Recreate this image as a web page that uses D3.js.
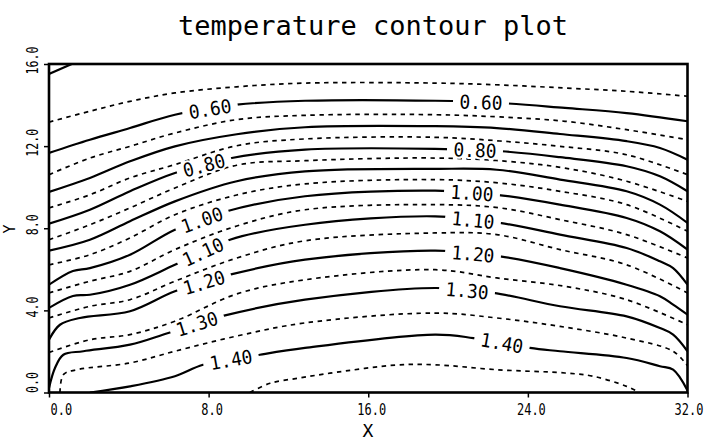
<!DOCTYPE html>
<html>
<head>
<meta charset="utf-8">
<script src="https://cdn.jsdelivr.net/npm/d3@7"></script>
<style>
body { margin: 0; background: #fff; }
</style>
</head>
<body>
<script>
// tick values
var xTicks = [0, 8, 16, 24, 32];
var yTicks = [0, 4, 8, 12, 16];

// contour lines, [x, y] in data units
var c050 = [[0,15.51],[1.14,16]];
var c055 = [[0,13.17],[2.05,13.70],[4.06,14.18],[6.31,14.59],[9.41,14.89],[12.83,15.07],[19.35,15.07],[22.6,14.98],[25.86,14.83],[28.95,14.67],[32,14.43]];
var c060 = [[0,11.67],[2.05,12.31],[4.06,12.88],[6.31,13.53],[9.41,14.02],[12.83,14.21],[19.35,14.21],[22.6,14.10],[25.86,13.86],[28.95,13.61],[32,13.21]];
var c065 = [[0,10.61],[2.05,11.42],[4.06,11.99],[6.31,12.64],[9.41,13.29],[12.83,13.50],[19.35,13.53],[22.6,13.42],[25.86,13.21],[28.95,12.80],[32,12.31]];
var c070 = [[0,9.77],[2.05,10.45],[4.06,11.26],[6.31,11.99],[9.41,12.58],[12.83,12.92],[19.35,12.97],[22.44,12.88],[25.61,12.59],[28.95,12.24],[30.62,11.91],[32,11.34]];
var c075 = [[0,8.99],[2.05,9.63],[4.06,10.45],[6.31,11.10],[9.41,12.02],[12.83,12.35],[19.35,12.43],[22.6,12.25],[25.61,11.99],[28.95,11.58],[32,10.61]];
var c080 = [[0,8.22],[2.05,8.90],[4.06,9.80],[6.31,10.69],[9.16,11.42],[12.83,11.83],[19.35,11.87],[22.69,11.75],[25.61,11.46],[28.95,11.02],[30.62,10.53],[32,9.80]];
var c085 = [[0,7.44],[2.05,8.17],[4.06,8.99],[6.31,9.96],[9.41,11.07],[12.83,11.29],[19.35,11.42],[22.94,11.26],[25.86,10.93],[28.95,10.29],[32,9.31]];
var c090 = [[0,6.91],[2.05,7.44],[4.06,8.34],[6.31,9.31],[9.41,10.29],[12.83,10.77],[19.35,10.89],[22.44,10.85],[25.61,10.37],[28.95,9.80],[30.62,9.15],[32,8.26]];
var c095 = [[0,6.22],[2.05,6.71],[4.06,7.53],[6.31,8.66],[9.41,9.62],[12.83,10.16],[19.35,10.37],[22.6,10.20],[25.61,9.80],[28.95,9.15],[32,7.85]];
var c100 = [[0,5.25],[1.2,5.92],[2.05,6.06],[4.06,6.71],[6.31,7.93],[8.91,8.83],[12.83,9.56],[19.35,9.83],[22.44,9.63],[25.61,9.15],[28.95,8.50],[30.62,7.85],[32,6.96]];
var c105 = [[0,4.85],[2.05,5.42],[4.06,5.90],[6.31,6.96],[9.41,8.11],[12.83,8.90],[19.35,9.15],[22.6,8.99],[25.61,8.42],[28.95,7.69],[32,6.55]];
var c110 = [[0,4.12],[1.2,4.70],[2.05,4.76],[4.06,5.25],[6.31,6.22],[9.07,7.44],[12.83,8.17],[19.35,8.58],[22.6,8.26],[25.61,7.69],[28.95,7.04],[30.62,6.39],[31.28,6.06],[32,5.25]];
var c115 = [[0,3.63],[2.05,4.20],[4.06,4.52],[6.31,5.42],[9.41,6.55],[12.83,7.39],[19.35,7.77],[22.44,7.69],[25.61,6.96],[28.95,6.22],[32,4.85]];
var c120 = [[0,2.57],[0.55,3.30],[1.55,3.63],[4.06,3.96],[6.31,4.93],[9.07,5.74],[12.83,6.47],[19.35,6.91],[22.6,6.63],[25.61,6.06],[28.95,5.25],[30.62,4.69],[31.28,4.28],[32,3.79]];
var c125 = [[0,1.95],[2.05,2.57],[4.06,2.82],[6.31,3.47],[9.41,4.80],[12.83,5.49],[19.35,5.98],[22.44,5.58],[25.86,5.17],[28.95,4.52],[32,3.30]];
var c130 = [[0,0.22],[0.3,1.19],[0.72,1.84],[1.72,2.01],[4.06,2.33],[5.98,2.90],[8.72,3.73],[12.83,4.52],[19.35,5.09],[22.27,4.85],[25.61,4.20],[28.95,3.71],[30.62,3.14],[31.28,2.82],[32,2.01]];
var c135 = [[0.55,0],[0.72,0.87],[1.39,1.11],[4.06,1.44],[6.31,2.01],[9.41,2.75],[12.83,3.39],[19.35,3.87],[22.44,3.63],[25.61,3.22],[28.95,2.65],[31.28,2.01],[32,1.3]];
var c140 = [[2.05,0],[4.06,0.30],[6.31,0.79],[7.72,1.35],[10.57,1.84],[12.83,2.17],[19.35,2.82],[21.27,2.65],[24.1,2.17],[25.61,2.01],[28.95,1.68],[30.62,1.28],[31.28,1.11],[32,0.1]];
var c145 = [[10.07,0],[11.08,0.45],[12.58,0.71],[14.08,0.94],[17.43,1.34],[19.35,1.35],[22.44,1.11],[25.86,0.95],[27.28,0.79],[28.95,0.30],[29.6,0]];

var levels = [0.50, 0.55, 0.60, 0.65, 0.70, 0.75, 0.80, 0.85, 0.90, 0.95, 1.00, 1.05, 1.10, 1.15, 1.20, 1.25, 1.30, 1.35, 1.40, 1.45];
var linePoints = [c050, c055, c060, c065, c070, c075, c080, c085, c090, c095, c100, c105, c110, c115, c120, c125, c130, c135, c140, c145];

// labelled levels and where along x the labels sit
var labelLevels = [0.60, 0.80, 1.00, 1.10, 1.20, 1.30, 1.40];
var labelXLeft = [8.07, 7.77, 7.67, 7.72, 7.77, 7.42, 9.12];
var labelXRight = [21.65, 21.35, 21.2, 21.25, 21.25, 20.95, 22.7];

var width = 710, height = 442;
var pLeft = 49, pRight = 687.5, pTop = 64, pBottom = 392.5;

var xScale = d3.scaleLinear().domain([0, 32]).range([pLeft, pRight]);
var yScale = d3.scaleLinear().domain([0, 16]).range([pBottom, pTop]);

var svg = d3.select("body").append("svg")
  .attr("width", width)
  .attr("height", height)
  .style("font-family", "'DejaVu Sans Mono', monospace");

svg.append("text")
  .attr("x", 373).attr("y", 35)
  .attr("text-anchor", "middle")
  .attr("font-size", 26)
  .attr("textLength", 390)
  .attr("lengthAdjust", "spacingAndGlyphs")
  .text("temperature contour plot");

svg.append("clipPath").attr("id", "plotclip")
  .append("rect")
  .attr("x", pLeft).attr("y", pTop)
  .attr("width", pRight - pLeft).attr("height", pBottom - pTop);

var contours = levels.map((lv, i) => ({ level: lv, pts: linePoints[i], solid: Math.round(lv * 100) % 10 === 0 }));

var line = d3.line()
  .x(d => xScale(d[0]))
  .y(d => yScale(d[1]))
  .curve(d3.curveCatmullRom.alpha(0.5));

var g = svg.append("g").attr("clip-path", "url(#plotclip)");

g.selectAll("path.contour").data(contours)
  .enter().append("path")
  .attr("class", "contour")
  .attr("d", d => line(d.pts))
  .attr("fill", "none")
  .attr("stroke", "#000")
  .attr("stroke-width", d => d.solid ? 2.2 : 1.7)
  .attr("stroke-dasharray", d => d.solid ? null : "4.5,4.5");

// place a label on its line, rotated with the local slope
function placeOn(pts, xv) {
  var i = 1;
  while (i < pts.length - 1 && pts[i][0] < xv) i++;
  var a = pts[i - 1], b = pts[i];
  var t = (xv - a[0]) / (b[0] - a[0]);
  var yv = a[1] + t * (b[1] - a[1]);
  var ang = Math.atan2(yScale(b[1]) - yScale(a[1]), xScale(b[0]) - xScale(a[0])) * 180 / Math.PI;
  return { x: xScale(xv), y: yScale(yv), a: ang };
}

var labels = [];
labelLevels.forEach((lv, i) => {
  var pts = linePoints[levels.indexOf(lv)];
  labels.push(Object.assign({ text: lv.toFixed(2) }, placeOn(pts, labelXLeft[i])));
  labels.push(Object.assign({ text: lv.toFixed(2) }, placeOn(pts, labelXRight[i])));
});

var lab = svg.selectAll("g.clabel").data(labels)
  .enter().append("g")
  .attr("class", "clabel")
  .attr("transform", d => "translate(" + d.x + "," + d.y + ") rotate(" + d.a + ")");

lab.append("rect")
  .attr("x", -28).attr("y", -6)
  .attr("width", 56).attr("height", 12)
  .attr("fill", "#fff");

lab.append("text")
  .attr("text-anchor", "middle")
  .attr("dy", "0.36em")
  .attr("font-size", 19)
  .attr("textLength", 43)
  .attr("lengthAdjust", "spacingAndGlyphs")
  .attr("stroke", "#fff")
  .attr("stroke-width", 4)
  .attr("stroke-linejoin", "round")
  .attr("paint-order", "stroke")
  .attr("fill", "#000")
  .text(d => d.text);

// axes
var fmt = d3.format(".1f");
var xAxis = svg.append("g")
  .attr("transform", "translate(0," + pBottom + ")")
  .call(d3.axisBottom(xScale).tickValues(xTicks).tickFormat(fmt).tickSize(5).tickPadding(7));
xAxis.select(".domain").remove();
xAxis.selectAll("line").attr("stroke-width", 1.5);
xAxis.selectAll("text")
  .attr("font-family", "'DejaVu Sans Mono', monospace")
  .attr("font-size", 15)
  .attr("fill", "#000")
  .attr("text-anchor", (d, i) => i === 0 ? "start" : "middle")
  .attr("dx", (d, i) => i === 0 ? 1 : (i === xTicks.length - 1 ? 1 : 3))
  .attr("textLength", d => fmt(d).length * 7.2)
  .attr("lengthAdjust", "spacingAndGlyphs");

var yAxis = svg.append("g")
  .attr("transform", "translate(" + pLeft + ",0)")
  .call(d3.axisLeft(yScale).tickValues(yTicks).tickFormat(fmt).tickSize(5));
yAxis.select(".domain").remove();
yAxis.selectAll("line").attr("stroke-width", 1.5);
yAxis.selectAll("text")
  .attr("font-family", "'DejaVu Sans Mono', monospace")
  .attr("font-size", 15)
  .attr("fill", "#000")
  .attr("transform", "rotate(-90)")
  .attr("text-anchor", (d, i) => i === 0 ? "start" : "middle")
  .attr("x", (d, i) => i === 0 ? 0 : 4)
  .attr("y", -11)
  .attr("dy", null)
  .attr("textLength", d => fmt(d).length * 7)
  .attr("lengthAdjust", "spacingAndGlyphs");

// plot frame
svg.append("rect")
  .attr("x", pLeft).attr("y", pTop)
  .attr("width", pRight - pLeft).attr("height", pBottom - pTop)
  .attr("fill", "none")
  .attr("stroke", "#000")
  .attr("stroke-width", 2.6);

svg.append("text")
  .attr("x", 368).attr("y", 437)
  .attr("text-anchor", "middle")
  .attr("font-size", 18)
  .text("X");

svg.append("text")
  .attr("transform", "translate(15,229) rotate(-90)")
  .attr("text-anchor", "middle")
  .attr("font-size", 15)
  .text("Y");
</script>
</body>
</html>
